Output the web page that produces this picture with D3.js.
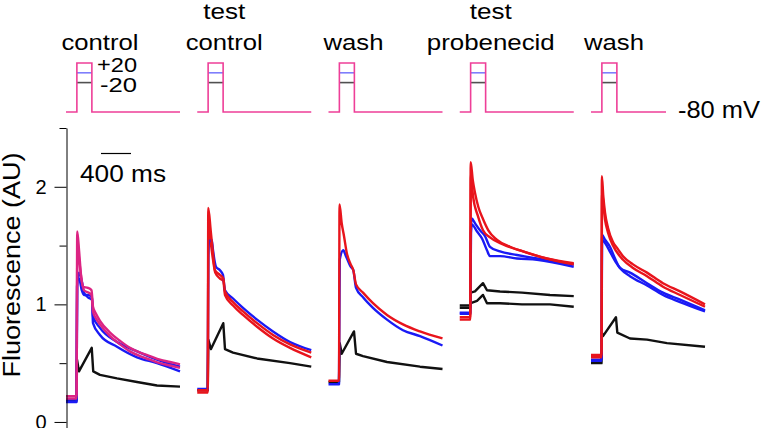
<!DOCTYPE html>
<html><head><meta charset="utf-8">
<script src="https://cdn.jsdelivr.net/npm/d3@7"></script>
<style>
body{margin:0;background:#fff}
text{font-family:"Liberation Sans",Arial,Helvetica,sans-serif;fill:#000}
</style>
</head><body>
<svg id="chart" width="763" height="428"></svg>
<script>
// ---------------- DATA ----------------
const conditions = ["control", "test control", "wash 1", "test probenecid", "wash 2"];
const conditionLabels = [["control"], ["test", "control"], ["wash"], ["test", "probenecid"], ["wash"]];
const yMajorTicks = [0, 1, 2];
const yMinorTicks = [0.5, 1.5, 2.5];
const yTitle = "Fluorescence (AU)";
const scaleBarMs = 400;
const scaleBarLabel = "400 ms";
const holdingPotential = -80;          // mV
const stepPotentials = [20, 0, -20];   // mV  (pink, blue, black)
const stepPotentialLabels = ["+20", "-20"];
const holdingLabel = "-80 mV";
const pulseOnMs = 145, pulseOffMs = 345;
const sweepMs = 1520;
const protocolMs = [1520, 1520, 1520, 1520, 1000];

// sweeps: [time ms, fluorescence AU]
// control
const control_p20_a = [[0,0.22],[140,0.22],[150,1.62],[175,1.45],[200,1.25],[227,1.15],[293,1.14],[340,1.12],[360,0.98],[400,0.92],[453,0.86],[587,0.76],[720,0.69],[853,0.63],[987,0.59],[1120,0.56],[1253,0.53],[1387,0.51],[1520,0.49]];
const control_p20_b = [[0,0.2],[140,0.2],[152,1.5],[180,1.35],[210,1.2],[240,1.12],[300,1.1],[340,1.08],[360,0.94],[400,0.88],[453,0.83],[587,0.73],[720,0.66],[853,0.6],[987,0.56],[1120,0.53],[1253,0.5],[1387,0.48],[1520,0.46]];
const control_0_a = [[0,0.17],[140,0.17],[147,1.15],[173,1.27],[213,1.19],[240,1.1],[293,1.06],[347,1.04],[360,0.84],[453,0.74],[680,0.64],[947,0.55],[1213,0.5],[1520,0.43]];
const control_0_b = [[0,0.19],[140,0.19],[150,1.2],[175,1.22],[210,1.12],[240,1.08],[300,1.08],[345,1.06],[360,0.9],[453,0.8],[680,0.68],[947,0.6],[1213,0.53],[1520,0.47]];
const control_m20 = [[0,0.18],[140,0.18],[147,0.53],[173,0.43],[343,0.63],[363,0.43],[453,0.4],[680,0.37],[947,0.34],[1213,0.31],[1520,0.3]];
// test control
const testctl_p20_a = [[0,0.27],[140,0.27],[147,1.82],[179,1.63],[206,1.46],[237,1.29],[303,1.25],[347,1.22],[370,1.11],[477,1.02],[610,0.94],[797,0.84],[1010,0.74],[1237,0.66],[1520,0.59]];
const testctl_p20_b = [[0,0.25],[140,0.25],[150,1.7],[185,1.5],[210,1.38],[240,1.27],[303,1.22],[347,1.2],[370,1.08],[477,0.99],[610,0.91],[797,0.81],[1010,0.71],[1237,0.63],[1520,0.55]];
const testctl_0 = [[0,0.28],[140,0.28],[147,1.4],[157,1.53],[193,1.55],[210,1.46],[250,1.32],[303,1.29],[343,1.25],[370,1.12],[477,1.05],[610,0.97],[797,0.87],[1010,0.77],[1237,0.68],[1520,0.61]];
const testctl_m20 = [[0,0.27],[140,0.27],[147,0.70],[183,0.62],[347,0.84],[370,0.62],[477,0.59],[797,0.54],[1237,0.5],[1520,0.47]];
// wash 1
const wash1_p20 = [[0,0.35],[140,0.35],[147,1.85],[176,1.69],[207,1.58],[243,1.44],[296,1.34],[331,1.29],[367,1.17],[460,1.1],[593,1.01],[780,0.91],[993,0.83],[1220,0.77],[1520,0.71]];
const wash1_0 = [[0,0.32],[140,0.32],[150,1.38],[197,1.46],[233,1.41],[296,1.32],[331,1.29],[367,1.14],[460,1.06],[593,0.97],[780,0.87],[993,0.78],[1220,0.73],[1520,0.65]];
const wash1_m20 = [[0,0.34],[140,0.34],[150,0.67],[176,0.58],[340,0.77],[367,0.58],[460,0.56],[780,0.51],[1220,0.47],[1520,0.45]];
// test probenecid
const testprb_p20_a = [[0,0.89],[140,0.89],[146,2.21],[173,2.06],[203,1.95],[247,1.83],[314,1.72],[381,1.63],[493,1.55],[670,1.49],[893,1.44],[1159,1.39],[1520,1.35]];
const testprb_p20_b = [[0,0.87],[140,0.87],[148,2.1],[177,1.92],[243,1.75],[310,1.63],[403,1.57],[577,1.51],[843,1.45],[1159,1.39],[1520,1.34]];
const testprb_0_a = [[0,0.93],[140,0.93],[147,1.6],[159,1.73],[203,1.69],[270,1.63],[337,1.58],[403,1.49],[537,1.45],[763,1.42],[1030,1.39],[1520,1.34]];
const testprb_0_b = [[0,0.92],[140,0.92],[150,1.6],[159,1.68],[230,1.62],[297,1.56],[363,1.46],[403,1.41],[537,1.41],[763,1.39],[1030,1.38],[1520,1.32]];
const testprb_m20_a = [[0,0.99],[140,0.99],[147,1.10],[203,1.11],[310,1.18],[363,1.12],[537,1.11],[830,1.10],[1203,1.08],[1520,1.07]];
const testprb_m20_b = [[0,0.97],[140,0.97],[147,1.01],[230,1.03],[310,1.08],[363,1.01],[537,1.01],[830,1.0],[1203,1.0],[1520,0.98]];
// wash 2
const wash2_p20_a = [[0,0.57],[140,0.57],[145,2.09],[164,1.92],[187,1.78],[227,1.65],[293,1.53],[347,1.48],[427,1.41],[560,1.34],[747,1.27],[960,1.18],[1187,1.11],[1520,1.0]];
const wash2_p20_b = [[0,0.55],[140,0.55],[147,1.95],[187,1.72],[227,1.61],[293,1.5],[427,1.38],[560,1.31],[747,1.24],[960,1.15],[1187,1.08],[1520,0.98]];
const wash2_0_a = [[0,0.53],[140,0.53],[147,1.59],[187,1.55],[253,1.49],[320,1.39],[387,1.31],[520,1.27],[747,1.18],[960,1.1],[1187,1.04],[1520,0.95]];
const wash2_0_b = [[0,0.52],[140,0.52],[148,1.55],[190,1.52],[260,1.44],[330,1.36],[400,1.3],[520,1.24],[747,1.16],[960,1.08],[1187,1.02],[1520,0.94]];
const wash2_m20 = [[0,0.5],[140,0.5],[145,0.76],[160,0.73],[333,0.89],[351,0.76],[520,0.71],[747,0.7],[1013,0.67],[1520,0.64]];

// table (condition index, step key, sweep) -- drawing order back to front
const sweeps = [
  [0,"m20",control_m20],[0,"0",control_0_a],[0,"0",control_0_b],[0,"p20c",control_p20_b],[0,"p20c",control_p20_a],
  [1,"m20",testctl_m20],[1,"p20",testctl_p20_b],[1,"0",testctl_0],[1,"p20",testctl_p20_a],
  [2,"m20",wash1_m20],[2,"0",wash1_0],[2,"p20",wash1_p20],
  [3,"m20",testprb_m20_a],[3,"m20",testprb_m20_b],[3,"0",testprb_0_a],[3,"0",testprb_0_b],[3,"p20",testprb_p20_b],[3,"p20",testprb_p20_a],
  [4,"m20",wash2_m20],[4,"0",wash2_0_b],[4,"0",wash2_0_a],[4,"p20",wash2_p20_b],[4,"p20",wash2_p20_a]
];

// ---------------- STYLE / LAYOUT ----------------
const traceColor = {"m20":"#111111","0":"#1a1af5","p20":"#e8141c","p20c":"#dc2483"};
const protoColor = ["#ee3f98","#7e7efc","#505050"];
const labelDx = [34, 27, 25, 31, 23];
const labelWidths = {"control":77,"test":42,"wash":60,"probenecid":128};

const svg = d3.select("#chart");

const y = d3.scaleLinear().domain([-0.06, 2.5]).range([429, 128]);
const groupX = d3.scalePoint().domain(conditions).range([66, 591]);
const tx = d3.scaleLinear().domain([0, sweepMs]).range([0, 114]);
const vScale = d3.scaleLinear().domain([holdingPotential, stepPotentials[0]]).range([112, 63]);

// ---- traces ----
const gTr = svg.append("g");
sweeps.forEach(([ci, key, pts]) => {
  const x0 = groupX(conditions[ci]);
  const line = d3.line().curve(key === "m20" ? d3.curveLinear : d3.curveMonotoneX)
    .x(d => x0 + tx(d[0])).y(d => y(d[1]));
  gTr.append("path").attr("d", line(pts)).attr("fill","none")
    .attr("stroke", traceColor[key]).attr("stroke-width", 2.4)
    .attr("stroke-linejoin","round");
});

// ---- protocol ----
const gP = svg.append("g");
conditions.forEach((c, i) => {
  const x0 = groupX(c);
  const pl = d3.line().x(d => x0 + tx(d[0])).y(d => vScale(d[1]));
  const end = protocolMs[i];
  [2,1].forEach(k => {
    gP.append("path").attr("d", pl([[pulseOnMs, stepPotentials[k]],[pulseOffMs, stepPotentials[k]]]))
      .attr("fill","none").attr("stroke", protoColor[k]).attr("stroke-width", 1.6);
  });
  gP.append("path").attr("d", pl([[0,holdingPotential],[pulseOnMs,holdingPotential],[pulseOnMs,stepPotentials[0]],
      [pulseOffMs,stepPotentials[0]],[pulseOffMs,holdingPotential],[end,holdingPotential]]))
    .attr("fill","none").attr("stroke", protoColor[0]).attr("stroke-width", 1.6);
});

function txt(sel, s, x, yb, size, width, anchor) {
  const t = sel.append("text").attr("x", x).attr("y", yb).attr("font-size", size)
    .attr("text-anchor", anchor || "start").text(s);
  if (width) t.attr("textLength", width).attr("lengthAdjust", "spacingAndGlyphs");
  return t;
}

// condition labels
conditionLabels.forEach((lines, i) => {
  const cx = groupX(conditions[i]) + labelDx[i];
  lines.forEach((s, j) => {
    const yb = lines.length === 2 ? (j === 0 ? 19 : 50) : 50;
    txt(svg, s, cx, yb, 22, labelWidths[s], "middle");
  });
});
// step labels
txt(svg, stepPotentialLabels[0], 97, 72, 20, 40);
txt(svg, stepPotentialLabels[1], 100, 92, 20, 37);
txt(svg, holdingLabel, 678, 118, 24, 82);

// ---- y axis ----
const axG = svg.append("g").attr("transform","translate(66.5,0)");
axG.call(d3.axisLeft(y).tickValues(yMajorTicks).tickSize(12).tickSizeOuter(0).tickPadding(8).tickFormat(d3.format("d")));
axG.selectAll("text").attr("font-size", 20).style("font-family",'"Liberation Sans",Arial,sans-serif').attr("fill","#000");
axG.select(".domain").attr("stroke","#000");
axG.selectAll(".tick line").attr("stroke","#000");
const axMinor = svg.append("g").attr("transform","translate(66.5,0)");
axMinor.call(d3.axisLeft(y).tickValues(yMinorTicks).tickSize(7).tickSizeOuter(0).tickFormat(""));
axMinor.select(".domain").remove();
axMinor.selectAll(".tick line").attr("stroke","#000");

// y title
svg.append("text").attr("transform","translate(20,265) rotate(-90)")
  .attr("text-anchor","middle").attr("font-size", 23)
  .attr("textLength", 225).attr("lengthAdjust","spacingAndGlyphs").text(yTitle);

// ---- scale bar ----
const sbX = 101;
svg.append("line").attr("x1", sbX).attr("x2", sbX + tx(scaleBarMs) - tx(0))
  .attr("y1", 153.5).attr("y2", 153.5).attr("stroke","#000").attr("stroke-width",1.2);
txt(svg, scaleBarLabel, 80, 182, 24, 86);
</script>
</body></html>
